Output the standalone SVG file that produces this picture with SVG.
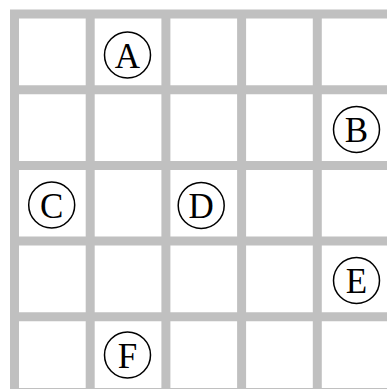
<svg xmlns="http://www.w3.org/2000/svg" width="387" height="389" viewBox="0 0 387 389">
<style>
.grid line{stroke:#c0c0c0;stroke-width:9}
.node circle{fill:none;stroke:#000;stroke-width:1.5}
.node text{font-family:"Liberation Serif","Times New Roman",serif;font-size:35px;text-anchor:middle;fill:#000}
</style>
<rect width="387" height="389" fill="#fff"/>
<g class="grid" id="connectors">
<line x1="14.5" y1="10" x2="14.5" y2="389"/>
<line x1="90.2" y1="10" x2="90.2" y2="389"/>
<line x1="165.9" y1="10" x2="165.9" y2="389"/>
<line x1="241.6" y1="10" x2="241.6" y2="389"/>
<line x1="317.3" y1="10" x2="317.3" y2="389"/>
<line x1="10" y1="14" x2="387" y2="14"/>
<line x1="10" y1="89.7" x2="387" y2="89.7"/>
<line x1="10" y1="165.4" x2="387" y2="165.4"/>
<line x1="10" y1="241.1" x2="387" y2="241.1"/>
<line x1="10" y1="316.8" x2="387" y2="316.8"/>
<line x1="10" y1="392.5" x2="387" y2="392.5"/>
</g>
<g class="node" id="A"><circle cx="127.5" cy="55" r="23"/><text x="127.5" y="67.5">A</text></g>
<g class="node" id="B"><circle cx="356.5" cy="129.5" r="23"/><text x="356.5" y="142">B</text></g>
<g class="node" id="C"><circle cx="51.7" cy="205" r="23"/><text x="51.7" y="217.5">C</text></g>
<g class="node" id="D"><circle cx="201.2" cy="205.5" r="23"/><text x="201.2" y="218">D</text></g>
<g class="node" id="E"><circle cx="356.5" cy="280.5" r="23"/><text x="356.5" y="293">E</text></g>
<g class="node" id="F"><circle cx="127.5" cy="355" r="23"/><text x="127.5" y="367.5">F</text></g>
</svg>
